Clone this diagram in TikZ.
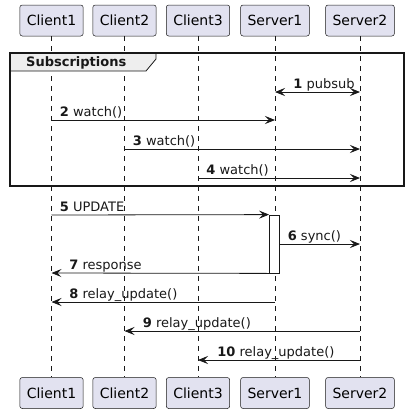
\documentclass[tikz,border=0pt]{standalone}
\usepackage{fontspec}
\setmainfont{DejaVu Sans}
\usetikzlibrary{arrows.meta}
\usetikzlibrary{calc}
\usetikzlibrary{positioning}

\definecolor{linec}{HTML}{181818}
\definecolor{actfill}{HTML}{E2E2F0}
\definecolor{tabfill}{HTML}{EEEEEE}

\tikzset{
    actor/.style={draw=linec, fill=actfill, rounded corners=2.5pt, line width=0.5pt,
        minimum height=31pt, inner xsep=7pt, font=\fontsize{14}{16}\selectfont},
    lifeline/.style={draw=linec, line width=0.5pt, dash pattern=on 5pt off 5pt},
    msg/.style={draw=linec, line width=0.8pt, -{Stealth[length=10pt,width=8pt,inset=4pt]}},
    bimsg/.style={msg, {Stealth[length=10pt,width=8pt,inset=4pt]}-{Stealth[length=10pt,width=8pt,inset=4pt]}},
    lbl/.style={anchor=base west, inner sep=0pt, yshift=3.5pt, text=linec,
        font=\fontsize{13}{15}\selectfont},
    actbox/.style={draw=linec, fill=white, line width=0.8pt, minimum width=10pt,
        minimum height=58pt, inner sep=0pt},
}

\begin{document}
\begin{tikzpicture}[x=1pt, y=-1pt]

    \useasboundingbox (0,0) rectangle (409,413);

    % participants, top and bottom
    \node[actor] (c1) at (51.5,20.5) {Client1};
    \node[actor] (c2) at (124.5,20.5) {Client2};
    \node[actor] (c3) at (198,20.5) {Client3};
    \node[actor] (s1) at (275,20.5) {Server1};
    \node[actor] (s2) at (360,20.5) {Server2};

    \node[actor] (c1b) at (51.5,393) {Client1};
    \node[actor] (c2b) at (124.5,393) {Client2};
    \node[actor] (c3b) at (198,393) {Client3};
    \node[actor] (s1b) at (275,393) {Server1};
    \node[actor] (s2b) at (360,393) {Server2};

    % lifelines
    \draw[lifeline] (c1) -- (c1b);
    \draw[lifeline] (c2) -- (c2b);
    \draw[lifeline] (c3) -- (c3b);
    \draw[lifeline] (s1) -- (s1b);
    \draw[lifeline] (s2) -- (s2b);

    % group frame
    \draw[draw=linec, fill=tabfill, line width=0.8pt] (10,53) -- (156,53) -- (156,59) -- (146,71) -- (10,71) -- cycle;
    \draw[draw=linec, line width=1.5pt] (10,53) rectangle (404,186);
    \node[anchor=base west, inner sep=0pt, text=linec, font=\fontsize{13}{15}\selectfont\bfseries] (grp) at (26,66) {Subscriptions};

    % messages inside group
    \draw[bimsg] (s1 |- 0,92) -- (s2 |- 0,92) node[lbl, at start, xshift=18pt] {\textbf{1} pubsub};
    \draw[msg] (c1 |- 0,120) -- (s1 |- 0,120) node[lbl, at start, xshift=8pt] {\textbf{2} watch()};
    \draw[msg] (c2 |- 0,149) -- (s2 |- 0,149) node[lbl, at start, xshift=8pt] {\textbf{3} watch()};
    \draw[msg] (c3 |- 0,178) -- (s2 |- 0,178) node[lbl, at start, xshift=8pt] {\textbf{4} watch()};

    % activation on Server1
    \node[actbox] (act) at (274.5,244) {};

    \draw[msg] (c1 |- 0,215) -- (act.north west) node[lbl, at start, xshift=8pt] {\textbf{5} UPDATE};
    \draw[msg] (act.east |- 0,244) -- (s2 |- 0,244) node[lbl, at start, xshift=7.5pt] {\textbf{6} sync()};
    \draw[msg] (act.south west) -- (c1 |- 0,273) node[lbl, at end, xshift=17.5pt] {\textbf{7} response};

    % relays
    \draw[msg] (s1 |- 0,302) -- (c1 |- 0,302) node[lbl, at end, xshift=17.5pt] {\textbf{8} relay\_update()};
    \draw[msg] (s2 |- 0,331) -- (c2 |- 0,331) node[lbl, at end, xshift=18pt] {\textbf{9} relay\_update()};
    \draw[msg] (s2 |- 0,360) -- (c3 |- 0,360) node[lbl, at end, xshift=19pt] {\textbf{10} relay\_update()};

\end{tikzpicture}
\end{document}
